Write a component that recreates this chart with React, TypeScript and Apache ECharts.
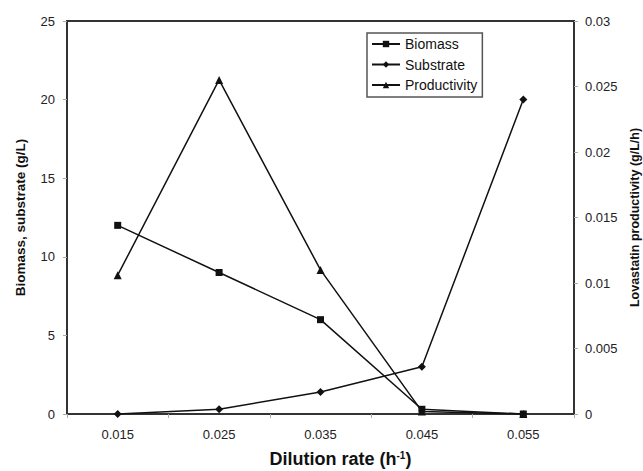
import React, { useEffect, useRef } from "react";
import * as echarts from "echarts";

const categories = ["0.015", "0.025", "0.035", "0.045", "0.055"];
const biomass = [12, 9, 6, 0.3, 0];
const substrate = [0, 0.3, 1.4, 3.0, 20];
const productivity = [0.0106, 0.0255, 0.011, 0.0002, 0];

const FONT = "Liberation Sans, Arial, sans-serif";

export default function App() {
  const ref = useRef<HTMLDivElement>(null);
  useEffect(() => {
    if (!ref.current) return;
    const chart = echarts.init(ref.current, null, { renderer: "svg" });
    const axisLineStyle = { color: "#333", width: 2 };
    const tickStyle = { color: "#aaa", width: 1 };
    chart.setOption({
      animation: false,
      backgroundColor: "#fff",
      textStyle: { fontFamily: FONT },
      grid: {
        left: 67,
        right: 69,
        top: 21,
        bottom: 57,
        show: true,
        borderColor: "#333",
        borderWidth: 2,
        containLabel: false,
        outerBoundsMode: "none",
      },
      legend: {
        orient: "vertical",
        left: 367,
        top: 33,
        padding: [4, 5, 5, 4],
        itemWidth: 28,
        itemHeight: 8,
        itemGap: 6.5,
        borderColor: "#555",
        borderWidth: 1.5,
        textStyle: { fontSize: 14, color: "#111", fontFamily: FONT },
        data: ["Biomass", "Substrate", "Productivity"],
      },
      xAxis: {
        type: "category",
        data: categories,
        boundaryGap: true,
        axisLine: { lineStyle: axisLineStyle },
        axisTick: { show: true, length: 4, inside: false, lineStyle: tickStyle },
        axisLabel: { fontSize: 13, color: "#222", margin: 14, fontFamily: FONT },
        name: "{n|Dilution rate (h}{s|-1}{n|)}",
        nameLocation: "middle",
        nameGap: 36,
        nameTextStyle: {
          padding: [0, 0, 0, 40],
          rich: {
            n: { fontSize: 18, fontWeight: "bold", color: "#111", fontFamily: FONT },
            s: { fontSize: 10, fontWeight: "bold", color: "#111", fontFamily: FONT, verticalAlign: "top", padding: [0, 0, 6, 0] },
          },
        },
      },
      yAxis: [
        {
          type: "value",
          min: 0,
          max: 25,
          interval: 5,
          position: "left",
          splitLine: { show: false },
          axisLine: { show: true, lineStyle: axisLineStyle },
          axisTick: { show: true, length: 4, lineStyle: tickStyle },
          axisLabel: { fontSize: 13, color: "#222", margin: 12, fontFamily: FONT },
          name: "Biomass, substrate (g/L)",
          nameLocation: "middle",
          nameRotate: 90,
          nameGap: 40,
          nameTextStyle: { fontSize: 13.5, fontWeight: "bold", color: "#111", fontFamily: FONT },
        },
        {
          type: "value",
          min: 0,
          max: 0.03,
          interval: 0.005,
          position: "right",
          splitLine: { show: false },
          axisLine: { show: true, lineStyle: axisLineStyle },
          axisTick: { show: true, length: 4, lineStyle: tickStyle },
          axisLabel: {
            fontSize: 13,
            color: "#222",
            margin: 11,
            fontFamily: FONT,
            formatter: (v: number) => String(parseFloat(v.toFixed(4))),
          },
          name: "Lovastatin productivity (g/L/h)",
          nameLocation: "middle",
          nameRotate: 90,
          nameGap: 54,
          nameTextStyle: { fontSize: 12.5, fontWeight: "bold", color: "#111", fontFamily: FONT },
        },
      ],
      series: [
        {
          name: "Biomass",
          type: "line",
          data: biomass,
          yAxisIndex: 0,
          symbol: "rect",
          symbolSize: 7,
          lineStyle: { color: "#111", width: 1.5 },
          itemStyle: { color: "#111" },
        },
        {
          name: "Substrate",
          type: "line",
          data: substrate,
          yAxisIndex: 0,
          symbol: "diamond",
          symbolSize: 8,
          lineStyle: { color: "#111", width: 1.5 },
          itemStyle: { color: "#111" },
        },
        {
          name: "Productivity",
          type: "line",
          data: productivity,
          yAxisIndex: 1,
          symbol: "triangle",
          symbolSize: 8,
          lineStyle: { color: "#111", width: 1.5 },
          itemStyle: { color: "#111" },
        },
      ],
    });
    return () => chart.dispose();
  }, []);
  return (
    <div style={{ width: 643, height: 471, position: "absolute", left: 0, top: 0, overflow: "hidden" }}>
      <div ref={ref} style={{ width: 643, height: 471 }} />
    </div>
  );
}
